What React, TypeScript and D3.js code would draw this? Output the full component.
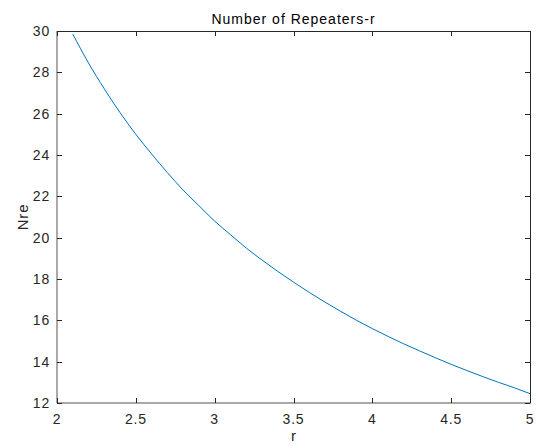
import React from "react";
import * as d3 from "d3";

const rValues = [2.1, 2.2, 2.3, 2.4, 2.5, 2.6, 2.7, 2.8, 2.9, 3.0, 3.1, 3.2, 3.3, 3.4, 3.5, 3.6, 3.7, 3.8, 3.9, 4.0, 4.1, 4.2, 4.3, 4.4, 4.5, 4.6, 4.7, 4.8, 4.9, 5.0];
const nreValues = [29.85, 28.45, 27.2, 26.05, 25.0, 24.05, 23.15, 22.3, 21.55, 20.8, 20.15, 19.5, 18.92, 18.37, 17.85, 17.35, 16.88, 16.43, 16.0, 15.6, 15.22, 14.86, 14.52, 14.19, 13.87, 13.57, 13.28, 13.0, 12.74, 12.45];
const xTicks = [2, 2.5, 3, 3.5, 4, 4.5, 5];
const yTicks = [12, 14, 16, 18, 20, 22, 24, 26, 28, 30];
const titleText = "Number of Repeaters-r";
const xLabel = "r";
const yLabel = "Nre";

export default function App() {
  const W = 537, H = 446;
  const L = 57, R = 530, T = 31, B = 403;
  const x = d3.scaleLinear().domain([2, 5]).range([L, R]);
  const y = d3.scaleLinear().domain([12, 30]).range([B, T]);
  const data = rValues.map((r, i) => [r, nreValues[i]] as [number, number]);
  const line = d3.line<[number, number]>().x(d => x(d[0])).y(d => y(d[1])).curve(d3.curveMonotoneX);
  const font = "'Liberation Sans', Arial, Helvetica, sans-serif";
  const tc = "#262626";
  const tl = 5;
  return (
    <svg width={W} height={H} style={{ position: "absolute", left: 0, top: 0, background: "#fff" }} fontFamily={font}>
      <rect x={0} y={0} width={W} height={H} fill="#fff" />
      <path d={line(data) || ""} fill="none" stroke="#0072BD" strokeWidth={1} />
      <line x1={L} x2={R} y1={T + 0.5} y2={T + 0.5} stroke={tc} strokeWidth={1} />
      <line x1={R + 0.5} x2={R + 0.5} y1={T} y2={B} stroke={tc} strokeWidth={1} />
      <line x1={L} x2={R + 1} y1={B} y2={B} stroke="#8c8c8c" strokeWidth={1.5} />
      <line x1={L} x2={L} y1={T} y2={B} stroke="#8c8c8c" strokeWidth={1.5} />
      {xTicks.map(t => (
        <g key={"x" + t}>
          <line x1={Math.round(x(t)) + 0.5} x2={Math.round(x(t)) + 0.5} y1={B} y2={B - tl} stroke={tc} />
          <line x1={Math.round(x(t)) + 0.5} x2={Math.round(x(t)) + 0.5} y1={T} y2={T + tl} stroke={tc} />
          <text x={x(t)} y={423.5} textAnchor="middle" fontSize={14} letterSpacing={0.8} fill={tc}>{t}</text>
        </g>
      ))}
      {yTicks.map(t => (
        <g key={"y" + t}>
          <line x1={L} x2={L + tl} y1={Math.round(y(t)) + 0.5} y2={Math.round(y(t)) + 0.5} stroke={tc} />
          <line x1={R} x2={R - tl} y1={Math.round(y(t)) + 0.5} y2={Math.round(y(t)) + 0.5} stroke={tc} />
          <text x={L - 7} y={y(t) + 5} textAnchor="end" fontSize={14} letterSpacing={0.8} fill={tc}>{t}</text>
        </g>
      ))}
      <text x={(L + R) / 2} y={24} textAnchor="middle" fontSize={14} letterSpacing={1} fill="#000">{titleText}</text>
      <text x={(L + R) / 2} y={441} textAnchor="middle" fontSize={15} fill={tc}>{xLabel}</text>
      <text transform={`translate(28, ${(T + B) / 2}) rotate(-90)`} textAnchor="middle" fontSize={15} letterSpacing={0.8} fill={tc}>{yLabel}</text>
    </svg>
  );
}
